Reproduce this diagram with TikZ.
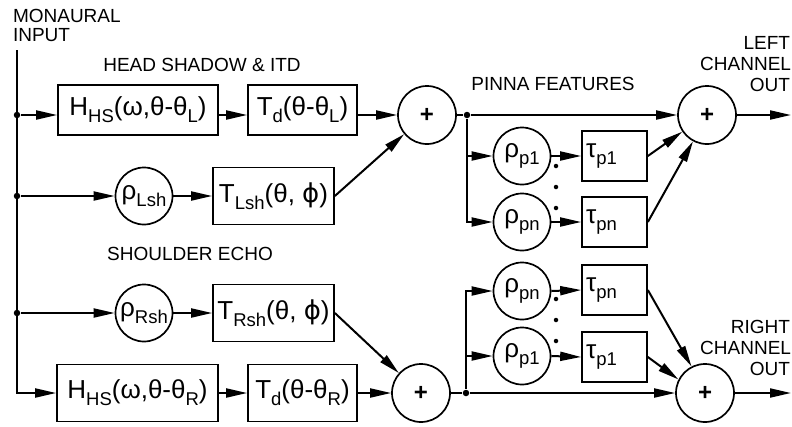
\documentclass[tikz,border=0pt]{standalone}
\usepackage{fontspec}
\setmainfont{Liberation Sans}
\newfontfamily\dvs{DejaVu Sans}
\usetikzlibrary{arrows.meta,calc}
\newcommand{\sbs}[1]{\raisebox{-7pt}{\fontsize{18.5}{18.5}\selectfont #1}}
\newcommand{\phs}{{\dvs ϕ}}
\begin{document}
\begin{tikzpicture}[x=1pt,y=-1pt,
  line width=2pt,
  arr/.style={-{Triangle[length=21pt,width=9pt]}},
  blk/.style={draw, line width=1.7pt, minimum height=50pt, inner sep=0pt, font=\fontsize{26}{26}\selectfont},
  tau/.style={draw, line width=1.7pt, minimum height=50pt, text width=57pt, inner xsep=4pt, inner ysep=0pt, align=left, font=\fontsize{26}{26}\selectfont},
  crc/.style={draw, circle, line width=1.7pt, minimum size=57pt, inner sep=0pt, font=\fontsize{26}{26}\selectfont},
  sumc/.style={draw, circle, line width=1.7pt, minimum size=58pt, inner sep=0pt, font=\fontsize{24}{24}\selectfont\bfseries},
  lbl/.style={font=\fontsize{19}{19}\selectfont, inner sep=0pt},
  jdot/.style={circle, fill, inner sep=0pt, minimum size=6.5pt},
  pdot/.style={circle, fill, inner sep=0pt, minimum size=4.5pt},
]
\useasboundingbox (0,0) rectangle (792,426);

% labels
\node[lbl, anchor=base west] (mon) at (12,22) {MONAURAL};
\node[lbl, anchor=base west] (inp) at (12,41) {INPUT};
\node[lbl, anchor=base] (hs) at (202,71) {HEAD SHADOW \& ITD};
\node[lbl, anchor=base] (se) at (190,260) {SHOULDER ECHO};
\node[lbl, anchor=base] (pf) at (553,90) {PINNA FEATURES};
\node[lbl, anchor=base east] (lc1) at (791,49) {LEFT};
\node[lbl, anchor=base east] (lc2) at (792,70) {CHANNEL};
\node[lbl, anchor=base east] (lc3) at (791,91) {OUT};
\node[lbl, anchor=base east] (rc1) at (791,333) {RIGHT};
\node[lbl, anchor=base east] (rc2) at (792,354) {CHANNEL};
\node[lbl, anchor=base east] (rc3) at (791,375) {OUT};

% input side
\coordinate (top) at (17,50);
\node[jdot] (d1) at (17,115) {};
\node[jdot] (d2) at (17,196) {};
\node[jdot] (d3) at (17,313) {};

% row 1
\node[blk, minimum width=160pt] (Hl) at (138,110) {H\sbs{HS}(ω,θ-θ\sbs{L})};
\node[blk, minimum width=109pt] (Tdl) at (302.5,110) {T\sbs{d}(θ-θ\sbs{L})};
\node[sumc] (s1) at (427,115) {+};
% row 2
\node[crc] (rl) at (144,196) {ρ\sbs{Lsh}};
\node[blk, minimum width=121pt, minimum height=57pt] (Tl) at (273.5,196) {T\sbs{Lsh}(θ, \phs)};
% row 3
\node[crc] (rr) at (144,313) {ρ\sbs{Rsh}};
\node[blk, minimum width=121pt, minimum height=57pt] (Tr) at (273.5,313) {T\sbs{Rsh}(θ, \phs)};
% row 4
\node[blk, minimum width=161pt, minimum height=57pt] (Hr) at (137.5,393) {H\sbs{HS}(ω,θ-θ\sbs{R})};
\node[blk, minimum width=109pt, minimum height=57pt] (Tdr) at (302.5,393) {T\sbs{d}(θ-θ\sbs{R})};
\node[sumc] (s2) at (421,393) {+};

% pinna upper
\node[jdot] (j1) at (467,115) {};
\node[crc] (p1a) at (522,156) {ρ\sbs{p1}};
\node[crc] (pna) at (522,222) {ρ\sbs{pn}};
\node[tau] (t1a) at (614.5,156) {τ\sbs{p1}};
\node[tau] (tna) at (614.5,222) {τ\sbs{pn}};
\node[sumc] (s3) at (707,115) {+};
\coordinate (o1) at (791,115);

% pinna lower
\node[jdot] (j2) at (466,393) {};
\node[crc] (pnb) at (522,291) {ρ\sbs{pn}};
\node[crc] (p1b) at (522,356) {ρ\sbs{p1}};
\node[tau] (tnb) at (614.5,290) {τ\sbs{pn}};
\node[tau] (t1b) at (614.5,357) {τ\sbs{p1}};
\node[sumc] (s4) at (705,393) {+};
\coordinate (o2) at (791,393);

% dotted continuation marks
\foreach \k/\yy in {1/166,2/187,3/208} \node[pdot] (va\k) at (556,\yy) {};
\foreach \k/\yy in {1/299,2/320,3/341} \node[pdot] (vb\k) at (556,\yy) {};

% connectors, left part
\draw[arr] (top) |- (Hr.west);
\draw[arr] (d1) -- (Hl.west |- d1);
\draw[arr] (Hl.east |- d1) -- (Tdl.west |- d1);
\draw[arr] (Tdl.east |- d1) -- (s1.west);
\draw[arr] (d2) -- (rl.west);
\draw[arr] (rl.east) -- (Tl.west);
\draw[arr] (Tl.east) -- (s1.220);
\draw[arr] (d3) -- (rr.west);
\draw[arr] (rr.east) -- (Tr.west);
\draw[arr] (Tr.east) -- (s2.138);
\draw[arr] (Hr.east) -- (Tdr.west);
\draw[arr] (Tdr.east) -- (s2.west);

% connectors, right upper
\draw (s1.east) -- (j1);
\draw[arr] (j1) -- (s3.west);
\draw[arr] (j1) |- (pna.west);
\draw[arr] (j1 |- p1a) -- (p1a.west);
\draw[arr] (p1a.east) -- (t1a.west);
\draw[arr] (pna.east) -- (tna.west);
\draw[arr] (t1a.east) -- (s3.214);
\draw[arr] (tna.east) -- (s3.242);
\draw[arr] (s3.east) -- (o1);

% connectors, right lower
\draw (s2.east) -- (j2);
\draw[arr] (j2) -- (s4.west);
\draw[arr] (j2) |- (pnb.west);
\draw[arr] (j2 |- p1b) -- (p1b.west);
\draw[arr] (pnb.east) -- (tnb.west);
\draw[arr] (p1b.east) -- (t1b.west);
\draw[arr] (tnb.east) -- (s4.117);
\draw[arr] (t1b.east) -- (s4.153);
\draw[arr] (s4.east) -- (o2);
\end{tikzpicture}
\end{document}
